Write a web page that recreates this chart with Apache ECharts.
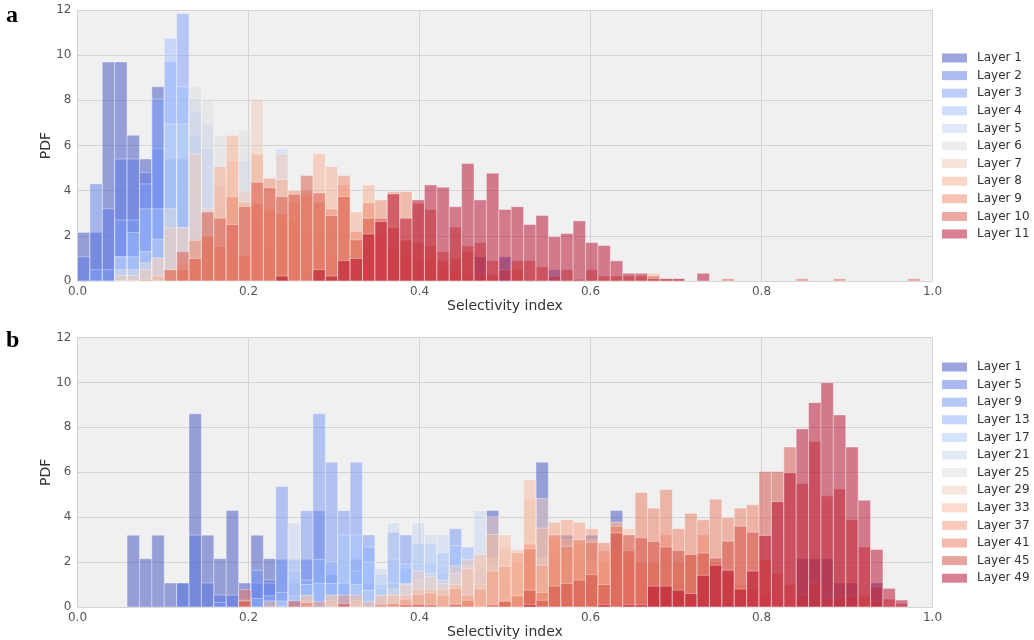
<!DOCTYPE html>
<html>
<head>
<meta charset="utf-8">
<script src="https://cdn.jsdelivr.net/npm/echarts@6/dist/echarts.min.js"></script>
<style>
  html, body { margin: 0; padding: 0; background: #fff; }
  #chart { width: 1034px; height: 640px; }
</style>
</head>
<body>
<div id="chart"></div>
<script>
// histogram bins: 69 equal bins on [0, 1]
const binWidth = 1 / 69;

// panel a: layers 1..11, PDF per bin (bin 0 first)
const layersA = ['Layer 1', 'Layer 2', 'Layer 3', 'Layer 4', 'Layer 5', 'Layer 6',
  'Layer 7', 'Layer 8', 'Layer 9', 'Layer 10', 'Layer 11'];
const a1 = [2.15, 2.15, 9.7, 9.7, 6.45, 5.4, 8.6, 5.4, 5.4, 2.15,
  1.07, 0, 0, 0, 0, 0, 0, 0, 0, 0,
  0, 0, 0, 0, 0, 0, 0, 0, 0, 0,
  0, 0, 1.07, 0, 1.07];
const a2 = [1.07, 4.3, 3.2, 5.4, 5.4, 4.8, 5.85, 5.4, 5.4, 3.2,
  1.6, 0.5, 0, 0, 0, 0, 0, 0, 0, 0,
  0, 0, 0, 0, 0, 0, 0, 0, 0, 0,
  0, 0, 0, 0, 0, 0, 0, 0, 0.5];
const a3 = [0, 0.5, 0.5, 2.7, 2.7, 4.3, 8.06, 9.7, 11.85, 6.45,
  2.15, 1.07, 0.5];
const a4 = [0, 0, 0, 1.07, 2.15, 3.2, 3.2, 10.75, 8.6, 7.5,
  5.85, 3.2, 1.6, 1.0, 0.5];
const a5 = [0, 0, 0, 1.07, 1.07, 1.3, 1.85, 6.95, 6.95, 8.06,
  6.95, 4.3, 3.2, 5.33, 2.7, 1.6, 5.86, 1.07, 0.5];
const a6 = [0, 0, 0, 0.5, 0.5, 0.8, 1.0, 3.2, 2.36, 8.6,
  8.06, 6.45, 4.8, 6.7, 5.63, 3.06, 2.36, 1.6, 1.07, 0.5,
  0.3];
const a7 = [0, 0, 0, 0.25, 0.25, 0.5, 1.03, 2.36, 2.36, 5.63,
  3.2, 4.25, 5.33, 4.0, 8.06, 3.2, 5.63, 2.7, 2.15, 1.6,
  1.07, 0.5, 0.3];
const a8 = [0, 0, 0, 0, 0, 0, 0.22, 0.5, 0.8, 1.0,
  2.0, 5.07, 6.45, 3.5, 5.63, 3.06, 4.5, 3.5, 3.74, 5.63,
  5.07, 4.25, 3.06, 4.25, 2.0, 1.5, 1.2, 1.0, 1.0, 0.5,
  0.5, 0.3, 0, 0, 0, 0, 0, 0, 0, 0,
  0, 0, 0, 0, 0, 0, 0.34];
const a9 = [0, 0, 0, 0, 0, 0.07, 0, 0, 0.5, 1.8,
  2.0, 1.55, 3.74, 1.15, 3.44, 4.55, 3.0, 4.0, 4.0, 3.5,
  3.2, 4.67, 2.2, 3.47, 3.59, 3.96, 3.96, 1.7, 1.55, 0.9,
  1.0, 1.3, 0.3, 0.3, 0, 0.5];
const a10 = [0, 0, 0, 0, 0, 0, 0, 0.5, 1.3, 1.0,
  3.06, 2.78, 2.5, 3.3, 4.37, 4.13, 3.74, 3.84, 4.67, 3.9,
  2.9, 3.74, 1.82, 2.78, 2.78, 2.38, 1.82, 3.44, 3.17, 1.3,
  2.38, 1.55, 1.7, 0.9, 0.49, 0.9, 0.9, 0.63, 0.22, 0.5,
  0.07, 0.5, 0.22, 0.22, 0.22, 0.22, 0.22, 0.1, 0.1, 0,
  0, 0, 0.1, 0, 0, 0, 0, 0, 0.1, 0,
  0, 0.1, 0, 0, 0, 0, 0, 0.1];
const a11 = [0, 0, 0, 0, 0, 0, 0, 0, 0, 0,
  0, 0, 0, 0, 0, 0, 0.22, 0, 0, 0.5,
  0.22, 0.9, 1.0, 2.08, 2.63, 3.85, 2.78, 3.59, 4.25, 4.15,
  3.29, 5.2, 3.59, 4.77, 3.17, 3.29, 2.5, 2.9, 1.96, 2.1,
  2.66, 1.7, 1.57, 0.89, 0.34, 0.34, 0.1, 0.1, 0.1, 0,
  0.34];

// panel b: every 4th layer
const layersB = ['Layer 1', 'Layer 5', 'Layer 9', 'Layer 13', 'Layer 17', 'Layer 21',
  'Layer 25', 'Layer 29', 'Layer 33', 'Layer 37', 'Layer 41', 'Layer 45', 'Layer 49'];
const b1 = [0, 0, 0, 0, 3.2, 2.15, 3.2, 1.07, 1.07, 8.6,
  3.2, 2.15, 4.3, 1.07, 3.2, 2.15, 0, 0, 0, 0,
  0, 0, 0, 0, 0, 0, 0, 0, 0, 0,
  0, 0, 0, 4.3, 0, 0, 0, 6.45, 0, 3.2,
  0, 3.2, 0, 4.3, 0, 0, 0, 0, 0, 0,
  0, 0, 0, 0, 0, 0, 0, 0, 2.15, 2.15,
  2.15, 1.07, 1.07, 0, 1.07];
const b5 = [0, 0, 0, 0, 0, 0, 0, 0, 1.07, 3.2,
  1.07, 0.53, 0.53, 0, 1.07, 1.2, 2.12, 1.07, 2.12, 4.29,
  1.44, 1.05, 2.12, 1.05, 0.5, 1.05, 0.5, 0.5, 0.3];
const b9 = [0, 0, 0, 0, 0, 0, 0, 0, 0, 0,
  0, 0.2, 0, 0.3, 1.64, 1.07, 5.36, 2.12, 4.29, 8.6,
  6.45, 4.29, 6.45, 3.21, 0.8, 3.33, 3.21, 1.2, 1.0, 1.5,
  3.48, 1.0, 0.5];
const b13 = [0, 0, 0, 0, 0, 0, 0, 0, 0, 0,
  0, 0, 0, 0, 0.38, 0.5, 0.65, 1.6, 1.2, 2.12,
  2.0, 1.05, 1.6, 2.67, 1.0, 2.12, 1.74, 2.81, 1.93, 2.4,
  1.5, 2.67, 1.0, 0.5];
const b17 = [0, 0, 0, 0, 0, 0, 0, 0, 0, 0,
  0, 0, 0, 0, 0, 0, 0, 0.5, 1.0, 1.06,
  1.05, 3.21, 3.21, 2.0, 1.44, 1.05, 1.93, 1.93, 2.81, 1.83,
  2.74, 1.2, 1.6, 1.0, 0.5];
const b21 = [0, 0, 0, 0, 0, 0, 0, 0, 0, 0,
  0, 0, 0, 0, 0, 0, 0.27, 3.74, 0.5, 0,
  0.5, 0, 1.0, 0.75, 1.71, 3.74, 1.0, 3.74, 3.21, 3.21,
  1.5, 1.0, 4.29, 1.83, 0.8, 0.5];
const b25 = [0, 0, 0, 0, 0, 0, 0, 0, 0, 0,
  0, 0, 0, 0, 0, 0, 0, 0, 0, 0,
  0, 0, 0, 0, 0.5, 0.8, 1.0, 1.2, 1.5, 1.2,
  1.5, 1.8, 2.0, 2.2, 2.5, 2.0, 2.5, 2.2, 2.0, 1.5,
  1.5, 1.2, 1.0, 0.8, 0.5];
const b29 = [0, 0, 0, 0, 0, 0, 0, 0, 0, 0,
  0, 0, 0, 0.3, 0, 0, 0, 0, 0.3, 0,
  0.3, 0, 0.3, 0, 0, 0.5, 1.05, 1.6, 1.34, 1.05,
  1.83, 2.12, 1.0, 4.02, 2.7, 2.0, 4.8, 4.83, 2.5, 2.5,
  2.0, 2.0, 1.5, 3.77, 1.5, 1.0, 0.8, 0.5];
const b33 = [0, 0, 0, 0, 0, 0, 0, 0, 0, 0,
  0, 0, 0, 0, 0, 0.27, 0, 0, 0.53, 0,
  0.53, 0, 0.53, 0.24, 0.53, 0.53, 0.53, 0.8, 0.8, 0.8,
  1.0, 1.71, 2.34, 3.23, 3.21, 2.55, 5.66, 3.51, 3.0, 3.0,
  2.8, 3.0, 2.0, 2.5, 3.48, 2.0, 1.5, 1.0, 0.8, 0.5];
const b37 = [0, 0, 0, 0, 0, 0, 0, 0, 0, 0,
  0, 0, 0, 0, 0, 0, 0, 0, 0, 0.24,
  0, 0.53, 0, 0, 0, 0, 0.35, 0.56, 0.63, 0.53,
  0.83, 0.53, 0.8, 1.6, 1.81, 2.42, 2.81, 1.86, 3.77, 3.89,
  3.77, 3.48, 2.5, 3.77, 2.5, 2.0, 2.0, 3.21, 2.0, 2.34,
  3.21, 2.0, 1.5, 1.0, 0.8, 0.5];
const b41 = [0, 0, 0, 0, 0, 0, 0, 0, 0, 0,
  0, 0, 0, 0.78, 0, 0, 0, 0, 0.2, 0,
  0, 0, 0, 0, 0.12, 0.16, 0, 0, 0, 0,
  0, 0.3, 0, 0, 0.3, 0.5, 2.6, 0.65, 3.21, 2.7,
  3.0, 2.88, 2.86, 3.6, 2.5, 5.1, 4.4, 5.23, 3.48, 4.17,
  3.88, 4.8, 3.99, 4.4, 4.55, 2.12, 1.5, 1.0, 0.53, 1.05,
  0.38, 0.5, 0.5, 0.53, 0.24];
const b45 = [0, 0, 0, 0, 0, 0, 0, 0, 0, 0,
  0, 0, 0, 0.27, 0, 0, 0, 0.27, 0, 0,
  0, 0.15, 0, 0, 0, 0, 0.1, 0.12, 0.1, 0,
  0.12, 0, 0, 0.1, 0.24, 0, 0.75, 0.3, 0.93, 1.05,
  1.2, 1.44, 1.0, 3.3, 3.21, 3.08, 2.92, 2.67, 2.52, 2.34,
  2.4, 2.18, 2.93, 3.6, 3.33, 6.03, 6.03, 7.12, 5.5, 7.37,
  4.95, 5.25, 3.89, 2.67, 0.9, 0.35, 0.15];
const b49 = [0, 0, 0, 0, 0, 0, 0, 0, 0, 0,
  0, 0, 0, 0, 0, 0, 0, 0, 0, 0,
  0, 0, 0, 0, 0, 0, 0, 0, 0, 0,
  0, 0, 0, 0, 0, 0, 0.1, 0, 0, 0,
  0, 0, 0.1, 0, 0.1, 0.1, 0.93, 0.93, 0.75, 0.6,
  1.41, 1.86, 1.64, 0.8, 1.6, 3.18, 4.69, 5.98, 7.93, 9.1,
  9.99, 8.55, 7.12, 4.75, 2.56, 0.83, 0.31];

const histA = [a1, a2, a3, a4, a5, a6, a7, a8, a9, a10, a11];
const histB = [b1, b5, b9, b13, b17, b21, b25, b29, b33, b37, b41, b45, b49];

// coolwarm colormap anchors
const CW = [[59,76,192],[68,90,204],[77,104,215],[87,117,225],[98,130,234],[108,142,241],
  [119,154,247],[130,165,251],[141,176,254],[152,185,255],[163,194,255],[174,201,253],
  [184,208,249],[194,213,244],[204,217,238],[213,219,230],[221,221,221],[229,216,209],
  [236,211,197],[241,204,185],[245,196,173],[247,187,160],[247,177,148],[247,166,135],
  [244,154,123],[241,141,111],[236,127,99],[229,112,88],[222,96,77],[213,80,66],
  [203,62,56],[192,40,47],[180,4,38]];
function coolwarm(t, alpha) {
  const p = t * 32;
  const i = Math.min(31, Math.floor(p));
  const f = p - i;
  const c = CW[i].map((v, k) => Math.round(v + (CW[i + 1][k] - v) * f));
  return 'rgba(' + c[0] + ',' + c[1] + ',' + c[2] + ',' + alpha + ')';
}

const renderBin = function (params, api) {
  const top = api.coord([api.value(0), api.value(2)]);
  const bot = api.coord([api.value(1), 0]);
  return {
    type: 'rect',
    shape: { x: top[0], y: top[1], width: bot[0] - top[0], height: bot[1] - top[1] },
    style: { fill: api.visual('color'), stroke: 'rgba(255,255,255,0.45)', lineWidth: 0.8 }
  };
};

function makeSeries(tag, names, hists, axis) {
  return hists.map((vals, k) => {
    const data = [];
    vals.forEach((h, i) => { if (h > 0) data.push([i * binWidth, (i + 1) * binWidth, h]); });
    return {
      type: 'custom',
      name: tag + '|' + names[k],
      xAxisIndex: axis,
      yAxisIndex: axis,
      itemStyle: { color: coolwarm(k / (hists.length - 1), 0.5) },
      renderItem: renderBin,
      encode: { x: [0, 1], y: 2 },
      data: data
    };
  });
}

const font = 'DejaVu Sans';
const xAxisCommon = {
  type: 'value', min: 0, max: 1, interval: 0.2,
  name: 'Selectivity index', nameLocation: 'middle', nameGap: 18,
  nameMoveOverlap: false,
  nameTextStyle: { fontFamily: font, fontSize: 14, color: '#333' },
  axisLine: { show: false }, axisTick: { show: false },
  axisLabel: { fontFamily: font, fontSize: 12, color: '#555', margin: 5,
    formatter: v => v.toFixed(1) },
  splitLine: { show: true, lineStyle: { color: '#d4d4d4', width: 1 } }
};
const yAxisCommon = {
  type: 'value', min: 0, max: 12, interval: 2,
  name: 'PDF', nameLocation: 'middle', nameGap: 24,
  nameMoveOverlap: false,
  nameTextStyle: { fontFamily: font, fontSize: 14, color: '#333' },
  axisLine: { show: false }, axisTick: { show: false },
  axisLabel: { fontFamily: font, fontSize: 12, color: '#555', margin: 6 },
  splitLine: { show: true, lineStyle: { color: '#d4d4d4', width: 1 } }
};
const legendCommon = {
  orient: 'vertical', left: 942, padding: 0,
  itemWidth: 25, itemHeight: 9, itemGap: 3.6, icon: 'rect',
  formatter: n => n.split('|')[1],
  textStyle: { fontFamily: font, fontSize: 12, color: '#333', lineHeight: 14, padding: [0, 0, 0, 5] }
};

const chart = echarts.init(document.getElementById('chart'), null, { renderer: 'canvas' });
chart.setOption({
  animation: false,
  backgroundColor: '#ffffff',
  grid: [
    { left: 77.5, top: 10, width: 855, height: 271, show: true, backgroundColor: '#f0f0f0', borderWidth: 0 },
    { left: 77.5, top: 337.5, width: 855, height: 271, show: true, backgroundColor: '#f0f0f0', borderWidth: 0 }
  ],
  xAxis: [
    Object.assign({ gridIndex: 0 }, xAxisCommon),
    Object.assign({ gridIndex: 1 }, xAxisCommon)
  ],
  yAxis: [
    Object.assign({ gridIndex: 0 }, yAxisCommon),
    Object.assign({ gridIndex: 1 }, yAxisCommon)
  ],
  legend: [
    Object.assign({ top: 51, data: layersA.map(n => 'a|' + n) }, legendCommon),
    Object.assign({ top: 360, data: layersB.map(n => 'b|' + n) }, legendCommon)
  ],
  graphic: [
    { type: 'text', left: 6, top: 4, style: { text: 'a', font: 'bold 24px "Liberation Serif"', fill: '#000' } },
    { type: 'text', left: 6, top: 329, style: { text: 'b', font: 'bold 24px "Liberation Serif"', fill: '#000' } }
  ],
  series: makeSeries('a', layersA, histA, 0).concat(makeSeries('b', layersB, histB, 1))
});
</script>
</body>
</html>
